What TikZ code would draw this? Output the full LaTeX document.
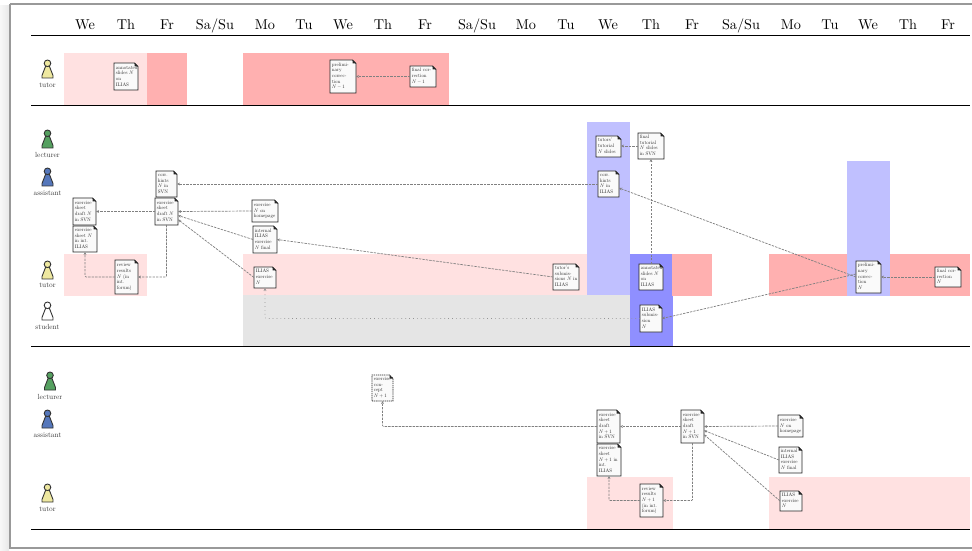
\documentclass[tikz,border=0pt]{standalone}
\usepackage{graphicx}
\usetikzlibrary{arrows.meta}
\pgfdeclarelayer{under}
\pgfsetlayers{under,main}
\definecolor{lpink}{HTML}{FFE1E1}
\definecolor{spink}{HTML}{FFB0B0}
\definecolor{lblue}{HTML}{C0C0FF}
\definecolor{sblue}{HTML}{8F8FFF}
\definecolor{zgray}{HTML}{E5E5E5}
\definecolor{pyellow}{HTML}{EEE8A0}
\definecolor{pgreen}{HTML}{55A060}
\definecolor{pblue}{HTML}{5577BB}
\tikzset{
  x=1bp,y=-1bp,
  docshape/.style={draw=black!85,line width=.95bp,fill=black!2},
  docnode/.style={inner sep=0pt,outer sep=0pt,align=left,anchor=center},
  flow/.style={draw=black!50,line width=.7bp,dash pattern=on 2.4bp off 1.1bp,
    -{Stealth[length=3bp,width=2.8bp]}},
  softflow/.style={draw=black!42,line width=.6bp,dash pattern=on .7bp off 3.2bp,
    -{Stealth[length=3bp,width=2.8bp]}},
  rulefull/.style={draw=black,line width=.9bp},
  daylabel/.style={inner sep=0pt,anchor=base},
  rolelabel/.style={inner sep=0pt,text=black!80},
}
% optional outline style; name; x1; y1; x2; y2; lines
\newcommand{\docn}[7][]{%
  \node[docnode,text=black!85,minimum width=#5bp-#3bp,minimum height=#6bp-#4bp] (#2) at ({(#3+#5)/2},{(#4+#6)/2})
    {\hbox to \dimexpr#5bp-#3bp\relax{\hspace{1.8bp}\scalebox{.5}{\renewcommand{\arraystretch}{.95}\begin{tabular}{@{}l@{}}#7\end{tabular}}\hss}};
  \begin{pgfonlayer}{under}
    \draw[docshape,#1] (#2.south west) -- (#2.south east) -- ([yshift=-3.5bp]#2.north east)
      -- ([xshift=-3.5bp]#2.north east) -- (#2.north west) -- cycle;
    \fill[black!85] ([yshift=-3.5bp]#2.north east) -- ([xshift=-3.5bp]#2.north east)
      -- ([xshift=-3.5bp,yshift=-3.5bp]#2.north east) -- cycle;
  \end{pgfonlayer}}
% name; cx; head top; colour; label; label y
\newcommand{\pawn}[6]{%
  \draw[draw=black!80,line width=.9bp,fill=#4] (#2-5.5,#3+18) -- (#2-5.5,#3+15.5)
    -- (#2-1.8,#3+6) -- (#2+1.8,#3+6) -- (#2+5.5,#3+15.5) -- (#2+5.5,#3+18) -- cycle;
  \draw[draw=black!80,line width=.9bp,fill=#4] (#2,#3+3.3) circle[radius=3.3];
  \node[rolelabel] (#1) at (#2,#6) {\scalebox{.74}{#5}};}
\newcommand{\zone}[5]{\fill[#1] (#2,#3) rectangle (#4,#5);}
\begin{document}
\begin{tikzpicture}
\useasboundingbox (0,0) rectangle (972,551);
\begin{pgfonlayer}{under}
  \fill[white] (0,0) rectangle (972,551);
  \shade[left color=black!3,right color=black!9] (0,6) rectangle (9,551);
  \draw[draw=black!40,line width=1.6bp] (10,4) -- (973,4);
  \draw[draw=black!40,line width=1.6bp] (10,4) -- (10,548) -- (973,548);
  % zones
  \zone{lpink}{64}{53}{147}{105}
  \zone{spink}{147}{53}{187}{105}
  \zone{spink}{243}{53}{449}{105}
  \zone{lblue}{587}{122}{630}{295}
  \zone{lblue}{847}{161}{890}{296}
  \zone{lpink}{64}{254}{147}{296}
  \zone{lpink}{243}{254}{587}{295}
  \zone{zgray}{243}{295}{630}{346}
  \zone{sblue}{630}{254}{673}{346}
  \zone{spink}{672}{254}{712}{296}
  \zone{spink}{769}{254}{847}{296}
  \zone{spink}{890}{254}{970}{296}
  \zone{lpink}{587}{477}{673}{529}
  \zone{lpink}{769}{477}{970}{529}
\end{pgfonlayer}
% rules
\draw[rulefull] (31,35.5) -- (970,35.5);
\draw[rulefull] (31,105) -- (970,105);
\draw[rulefull] (31,346) -- (970,346);
\draw[rulefull] (31,529.5) -- (970,529.5);
% days
\foreach \dx/\dn [count=\di] in {85/We,126/Th,167/Fr,215/Sa\slash Su,265/Mo,304/Tu,343/We,383/Th,425/Fr,477/Sa\slash Su,526/Mo,566/Tu,608/We,651/Th,692/Fr,741/Sa\slash Su,791/Mo,830/Tu,868/We,908/Th,948/Fr}
  \node[daylabel] (day\di) at (\dx,30) {\scalebox{1.43}{\dn}};
% people
\pawn{tutorA}{47.5}{60}{pyellow}{tutor}{85}
\pawn{lecturerB}{47.5}{130}{pgreen}{lecturer}{155}
\pawn{assistantB}{47.5}{168}{pblue}{assistant}{193}
\pawn{tutorB}{47.5}{261}{pyellow}{tutor}{285}
\pawn{studentB}{47.5}{302}{white}{student}{327}
\pawn{lecturerC}{50}{372}{pgreen}{lecturer}{397}
\pawn{assistantC}{47.5}{410}{pblue}{assistant}{435}
\pawn{tutorC}{47.5}{484}{pyellow}{tutor}{509}
% documents, first band
\docn{annotA}{114}{63}{138}{90}{annotated\\slides $N$\\on\\ILIAS}
\docn{prelimA}{330}{60}{356}{93}{prelimi-\\nary\\correc-\\tion\\$N-1$}
\docn{finalA}{410}{66}{436}{87}{final cor-\\rection\\$N-1$}
% second band
\docn{hintsS}{156}{171}{177}{197}{corr.\\hints\\$N$ in\\SVN}
\docn{draftL}{73}{198}{96}{225}{exercise\\sheet\\draft $N$\\in SVN}
\docn{intL}{73}{226}{97}{252}{exercise\\sheet $N$\\in int.\\ILIAS}
\docn{draftC}{155}{198}{178}{225}{exercise\\sheet\\draft $N$\\in SVN}
\docn{review}{115}{260}{138}{294}{review\\results\\$N$ (in\\int.\\forum)}
\docn{home}{252}{200}{278}{222}{exercise\\$N$ on\\homepage}
\docn{internal}{253}{226}{277}{253}{internal\\ILIAS\\exercise\\$N$ final}
\docn{iliasEx}{254}{267}{276}{288}{ILIAS\\exercise\\$N$}
\docn{submT}{553}{264}{579}{290}{tutor's\\submis-\\sions $N$ in\\ILIAS}
\docn{tutTut}{596}{136}{621}{157}{tutors'\\tutorial\\$N$ slides}
\docn{finTut}{638}{133}{664}{159}{final\\tutorial\\$N$ slides\\in SVN}
\docn{hintsI}{598}{171}{619}{197}{corr.\\hints\\$N$ in\\ILIAS}
\docn{annotB}{639}{264}{663}{290}{annotated\\slides $N$\\on\\ILIAS}
\docn{submS}{640}{305}{662}{332}{ILIAS\\submis-\\sion\\$N$}
\docn{prelimB}{856}{261}{881}{293}{prelimi-\\nary\\correc-\\tion\\$N$}
\docn{finalB}{935}{267}{961}{287}{final cor-\\rection\\$N$}
% third band
\docn[dash pattern=on 1.3bp off .8bp]{comp}{372}{375}{393}{401}{exercise\\con-\\cept\\$N+1$}
\docn{draftNL}{597}{410}{620}{443}{exercise\\sheet\\draft\\$N+1$\\in SVN}
\docn{intN}{597}{444}{621}{476}{exercise\\sheet\\$N+1$ in\\int.\\ILIAS}
\docn{draftNC}{681}{410}{704}{443}{exercise\\sheet\\draft\\$N+1$\\in SVN}
\docn{reviewN}{640}{484}{663}{517}{review\\results\\$N+1$\\(in int.\\forum)}
\docn{homeN}{778}{415}{803}{437}{exercise\\$N$ on\\homepage}
\docn{internalN}{779}{447}{802}{473}{internal\\ILIAS\\exercise\\$N$ final}
\docn{iliasExN}{780}{491}{802}{511}{ILIAS\\exercise\\$N$}
% connectors
\draw[flow] (finalA.west) -- (finalA.west -| prelimA.east);
\draw[flow] (hintsI.west) -- (hintsS.east);
\draw[flow] (draftC.west) -- (draftL.east);
\draw[flow] (home.west) -- (draftC.east);
\draw[flow] (internal.west) -- ([yshift=-4bp]draftC.east);
\draw[flow] (iliasEx.west) -- ([yshift=-8bp]draftC.east);
\draw[flow,rounded corners=1bp] (draftC.south) |- (review.east);
\draw[flow,rounded corners=1bp] (review.west) -| (intL.south);
\draw[flow] (submT.west) -- (internal.east);
\draw[softflow,rounded corners=1bp] (submS.west) -| (iliasEx.south);
\draw[flow] (prelimB.west) -- ([yshift=-4bp]hintsI.east);
\draw[flow] ([yshift=3bp]prelimB.west) -- (submS.east);
\draw[flow] (finalB.west) -- (prelimB.east);
\draw[flow] (annotB.north) -- (finTut.south);
\draw[flow] (finTut.west) -- (finTut.west -| tutTut.east);
\draw[flow,rounded corners=1bp] (draftNL.west) -| (comp.south);
\draw[flow] (draftNC.west) -- (draftNL.east);
\draw[flow] (homeN.west) -- (draftNC.east);
\draw[flow] (internalN.west) -- ([yshift=-4bp]draftNC.east);
\draw[flow] (iliasExN.west) -- ([yshift=-8bp]draftNC.east);
\draw[flow,rounded corners=1bp] (draftNC.south) |- (reviewN.east);
\draw[flow,rounded corners=1bp] (reviewN.west) -| (intN.south);
\end{tikzpicture}
\end{document}
